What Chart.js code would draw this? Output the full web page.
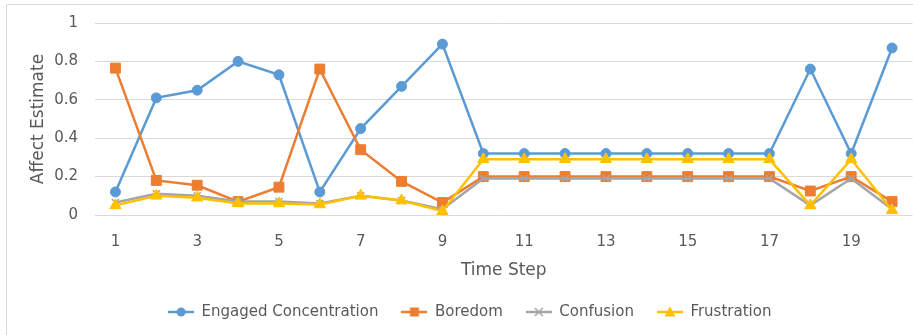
<!DOCTYPE html>
<html>
<head>
<meta charset="utf-8">
<script src="https://cdn.jsdelivr.net/npm/chart.js@4.4.1/dist/chart.umd.min.js"></script>
<style>
  html, body { margin: 0; padding: 0; background: #ffffff; }
  #wrap { position: relative; width: 913px; height: 335px; }
</style>
</head>
<body>
<div id="wrap"><canvas id="c" width="913" height="335"></canvas></div>
<script>
const timeSteps = ['1','2','3','4','5','6','7','8','9','10','11','12','13','14','15','16','17','18','19','20'];
const engagedConcentration = [0.12, 0.61, 0.65, 0.80, 0.73, 0.12, 0.45, 0.67, 0.89, 0.32, 0.32, 0.32, 0.32, 0.32, 0.32, 0.32, 0.32, 0.76, 0.32, 0.87];
const boredom = [0.765, 0.18, 0.155, 0.07, 0.145, 0.76, 0.34, 0.175, 0.065, 0.20, 0.20, 0.20, 0.20, 0.20, 0.20, 0.20, 0.20, 0.125, 0.20, 0.07];
const confusion = [0.065, 0.11, 0.10, 0.07, 0.07, 0.06, 0.10, 0.075, 0.03, 0.19, 0.19, 0.19, 0.19, 0.19, 0.19, 0.19, 0.19, 0.05, 0.19, 0.03];
const frustration = [0.05, 0.10, 0.09, 0.06, 0.06, 0.055, 0.10, 0.075, 0.02, 0.29, 0.29, 0.29, 0.29, 0.29, 0.29, 0.29, 0.29, 0.05, 0.29, 0.025];
const seriesNames = ['Engaged Concentration', 'Boredom', 'Confusion', 'Frustration'];
const yTicks = [0, 0.2, 0.4, 0.6, 0.8, 1];

const COLORS = ['#5B9BD5', '#ED7D31', '#A5A5A5', '#FFC000'];
const STYLES = ['circle', 'rect', 'crossRot', 'triangle'];
const RADII = [5, 7, 5, 6.5];
const TEXT = '#595959';
const FONT = "'DejaVu Sans', sans-serif";

function makeIcon(color, style) {
  const cv = document.createElement('canvas');
  cv.width = 26; cv.height = 14;
  const g = cv.getContext('2d');
  g.strokeStyle = color; g.fillStyle = color; g.lineWidth = 2.5;
  g.beginPath(); g.moveTo(0, 7); g.lineTo(26, 7); g.stroke();
  const cx = 13, cy = 7;
  g.beginPath();
  if (style === 'circle') { g.arc(cx, cy, 4.5, 0, Math.PI * 2); g.fill(); }
  else if (style === 'rect') { g.fillRect(cx - 4.5, cy - 4.5, 9, 9); }
  else if (style === 'crossRot') {
    g.lineWidth = 1.5;
    g.moveTo(cx - 4, cy - 4); g.lineTo(cx + 4, cy + 4);
    g.moveTo(cx + 4, cy - 4); g.lineTo(cx - 4, cy + 4); g.stroke();
  } else if (style === 'triangle') {
    g.moveTo(cx, cy - 5.5); g.lineTo(cx + 5.5, cy + 4.5); g.lineTo(cx - 5.5, cy + 4.5); g.closePath(); g.fill();
  }
  return cv;
}

const allData = [engagedConcentration, boredom, confusion, frustration];
const datasets = allData.map((d, i) => ({
  label: seriesNames[i],
  data: d,
  borderColor: COLORS[i],
  backgroundColor: COLORS[i],
  pointBackgroundColor: COLORS[i],
  pointBorderColor: COLORS[i],
  pointStyle: STYLES[i],
  pointRadius: RADII[i],
  pointBorderWidth: STYLES[i] === 'crossRot' ? 1.5 : 1,
  borderWidth: 2.5,
  tension: 0,
  fill: false,
  clip: false,
  order: 4 - i
}));

const borderPlugin = {
  id: 'frame',
  beforeDraw(chart) {
    const ctx = chart.ctx;
    ctx.save();
    ctx.strokeStyle = '#d9d9d9';
    ctx.lineWidth = 1;
    ctx.beginPath();
    ctx.moveTo(6.5, 335); ctx.lineTo(6.5, 4.5); ctx.lineTo(913, 4.5);
    ctx.stroke();
    ctx.restore();
  }
};

new Chart(document.getElementById('c'), {
  type: 'line',
  data: { labels: timeSteps, datasets },
  plugins: [borderPlugin],
  options: {
    responsive: false,
    animation: false,
    events: [],
    layout: { autoPadding: false, padding: { left: 27, right: 0.5, top: 23, bottom: 5.5 } },
    scales: {
      x: {
        type: 'category',
        offset: true,
        grid: { display: false },
        border: { display: false },
        ticks: {
          autoSkip: false,
          maxRotation: 0,
          padding: 10,
          color: TEXT,
          font: { family: FONT, size: 15 },
          callback: function (v, i) { return i % 2 === 0 ? this.getLabelForValue(v) : ''; }
        },
        title: { display: true, text: 'Time Step', color: TEXT, font: { family: FONT, size: 17 }, padding: { top: 0, bottom: 0.5 } },
        afterFit(scale) { scale.height = 66.5; scale.paddingLeft = 0; scale.paddingRight = 0; }
      },
      y: {
        min: 0, max: 1,
        afterBuildTicks(scale) { scale.ticks = yTicks.map(v => ({ value: v })); },
        grid: { color: '#d9d9d9', lineWidth: 1, drawTicks: false },
        border: { display: false },
        ticks: {
          padding: 17,
          color: TEXT,
          font: { family: FONT, size: 15 },
          callback: v => String(v)
        },
        title: { display: true, text: 'Affect Estimate', color: TEXT, font: { family: FONT, size: 17 }, padding: { top: 1, bottom: 4 } },
        afterFit(scale) { scale.width = 68; scale.paddingTop = 0; scale.paddingBottom = 0; }
      }
    },
    plugins: {
      tooltip: { enabled: false },
      legend: {
        position: 'bottom',
        labels: {
          usePointStyle: true,
          pointStyleWidth: 26,
          padding: 23,
          color: TEXT,
          font: { family: FONT, size: 15 },
          sort: (a, b) => a.datasetIndex - b.datasetIndex,
          generateLabels(chart) {
            return chart.data.datasets.map((ds, i) => ({
              text: ds.label,
              datasetIndex: i,
              hidden: false,
              fontColor: TEXT,
              fillStyle: COLORS[i],
              strokeStyle: COLORS[i],
              lineWidth: 0,
              pointStyle: makeIcon(COLORS[i], STYLES[i])
            }));
          }
        }
      }
    }
  }
});
</script>
</body>
</html>
